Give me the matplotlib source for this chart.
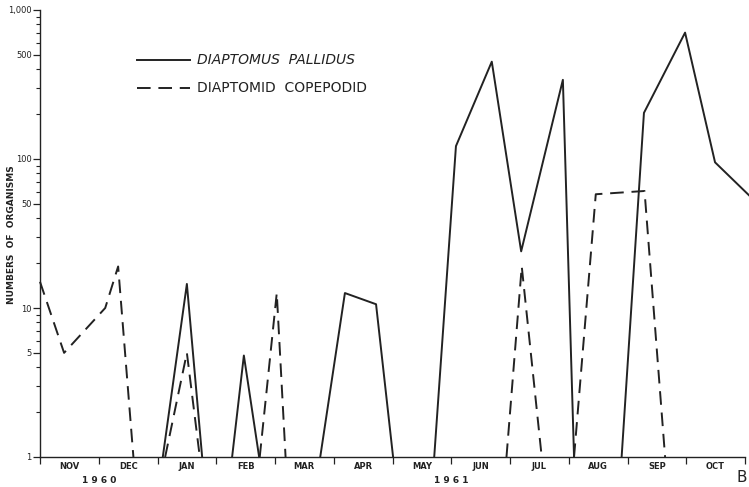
""" Diaptomus pallidus and diaptomid copepodid counts, Nov 1960 - Oct 1961.
"""

import numpy as np
import matplotlib.pyplot as plt
from matplotlib.ticker import FixedLocator, LogLocator, NullFormatter

nan = np.nan

""" DATA """
# x in months after the start of November 1960
months = ["NOV", "DEC", "JAN", "FEB", "MAR", "APR", "MAY",
          "JUN", "JUL", "AUG", "SEP", "OCT"]

pallidus_x = [2.09, 2.5, 2.76, nan, 3.27, 3.47, 3.73, nan,
              4.77, 5.19, 5.72, 6.01, nan,
              6.71, 7.08, 7.69, 8.19, 8.9, 9.09, nan,
              9.9, 10.28, 10.98, 11.49, 12.07]
pallidus_y = [1, 14.5, 1, nan, 1, 4.8, 1, nan,
              1, 12.6, 10.6, 1, nan,
              1, 122, 450, 24, 340, 1, nan,
              1, 204, 705, 95, 57]

copepodid_x = [0, 0.41, 1.11, 1.33, 1.59, nan,
               2.13, 2.5, 2.72, nan,
               3.74, 4.03, 4.18, nan,
               7.94, 8.2, 8.54, nan,
               9.09, 9.46, 10.29, 10.64]
copepodid_y = [15, 5, 10, 19, 1, nan,
               1, 5, 1, nan,
               1, 12.6, 1, nan,
               1, 19, 1, nan,
               1, 58, 61, 1]

y_ticks = [1, 5, 10, 50, 100, 500, 1000]
y_labels = ["1", "5", "10", "50", "100", "500", "1,000"]


def main():
    fig = plt.figure(figsize=(7.49, 4.87), dpi=100)
    ax = fig.add_axes([40 / 749, 1 - 457 / 487, 705 / 749, 447 / 487])

    ink = "#222222"
    ax.plot(pallidus_x, pallidus_y, color=ink, lw=1.4, clip_on=False)
    ax.plot(copepodid_x, copepodid_y, color=ink, lw=1.4, clip_on=False,
            dashes=(7, 4))

    ax.set_yscale("log")
    ax.set_ylim(1, 1000)
    ax.set_xlim(0, 12)

    ax.yaxis.set_major_locator(FixedLocator(y_ticks))
    ax.set_yticklabels(y_labels)
    ax.yaxis.set_minor_locator(LogLocator(base=10, subs=np.arange(2, 10)))
    ax.yaxis.set_minor_formatter(NullFormatter())

    # month boundaries as ticks, names in between
    ax.xaxis.set_major_locator(FixedLocator(np.arange(0, 13)))
    ax.set_xticklabels([])
    xt = ax.get_xaxis_transform()
    for i, m in enumerate(months):
        ax.text(i + 0.5, -0.022, m, transform=xt, ha="center", va="center",
                fontsize=6, fontweight="bold", color=ink)

    ax.text(1.0, -0.053, "1 9 6 0", transform=xt, ha="center", va="center",
            fontsize=6.5, fontweight="bold", color=ink)
    ax.text(7.0, -0.053, "1 9 6 1", transform=xt, ha="center", va="center",
            fontsize=6.5, fontweight="bold", color=ink)
    fig.text(742 / 749, 1 - 478 / 487, "B", ha="center", va="center",
             fontsize=11, color=ink)

    for s in ["top", "right"]:
        ax.spines[s].set_visible(False)
    for s in ["left", "bottom"]:
        ax.spines[s].set_color(ink)
        ax.spines[s].set_linewidth(1.0)

    ax.tick_params(axis="y", which="major", direction="out", length=5,
                   width=0.9, labelsize=6, colors=ink, pad=1)
    ax.tick_params(axis="y", which="minor", direction="out", length=3,
                   width=0.8, colors=ink)
    ax.tick_params(axis="x", which="major", direction="out", length=5,
                   width=0.9, colors=ink)

    fig.text(12 / 749, 1 - 235 / 487, "NUMBERS  OF  ORGANISMS",
             rotation=90, ha="center", va="center", fontsize=6.5,
             fontweight="bold", color=ink)

    # legend drawn by hand to match the original layout
    lx0, lx1 = (137 - 40) / 705, (190 - 40) / 705
    y1, y2 = (457 - 60) / 447, (457 - 88) / 447
    ax.plot([lx0, lx1], [y1, y1], transform=ax.transAxes, color=ink, lw=1.4)
    ax.plot([lx0, lx1], [y2, y2], transform=ax.transAxes, color=ink, lw=1.4,
            dashes=(7, 4))
    tx = (197 - 40) / 705
    ax.text(tx, y1, "DIAPTOMUS  PALLIDUS", transform=ax.transAxes,
            ha="left", va="center", fontsize=10, style="italic", color=ink)
    ax.text(tx, y2, "DIAPTOMID  COPEPODID", transform=ax.transAxes,
            ha="left", va="center", fontsize=10, color=ink)

    fig.savefig("out.png", dpi=100)
    plt.close(fig)


if __name__ == "__main__":
    main()
